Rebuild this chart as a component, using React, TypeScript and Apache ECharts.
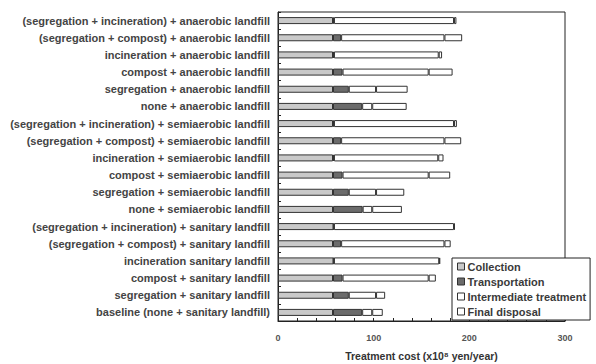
import React, { useEffect, useRef } from "react";
import * as echarts from "echarts";

const categories = [
  "(segregation + incineration) + anaerobic landfill",
  "(segregation + compost) + anaerobic landfill",
  "incineration + anaerobic landfill",
  "compost + anaerobic landfill",
  "segregation + anaerobic landfill",
  "none + anaerobic landfill",
  "(segregation + incineration) + semiaerobic landfill",
  "(segregation + compost) + semiaerobic landfill",
  "incineration + semiaerobic landfill",
  "compost + semiaerobic landfill",
  "segregation + semiaerobic landfill",
  "none + semiaerobic landfill",
  "(segregation + incineration) + sanitary landfill",
  "(segregation + compost) + sanitary landfill",
  "incineration sanitary landfill",
  "compost + sanitary landfill",
  "segregation + sanitary landfill",
  "baseline (none + sanitary landfill)",
];

const collection = [57.5, 57.5, 57.5, 57.5, 57.5, 57.5, 57.5, 57.5, 57.5, 57.5, 57.5, 57.5, 58, 57.5, 58, 57.5, 57.5, 57.5];
const transportation = [1, 8.5, 1, 10, 16.5, 30.5, 1, 8.5, 1, 10, 16.5, 31, 0.5, 8.5, 0.5, 10, 16.5, 30.5];
const intermediate = [125.5, 108, 109.5, 90, 28.5, 10.5, 125.5, 108, 109, 90, 28.5, 10, 125.5, 108, 110, 90, 28.5, 10.5];
const finalDisposal = [2.5, 18.5, 3.5, 25, 33, 36, 3, 17.5, 5.5, 22.5, 29.5, 31, 1, 6.5, 1, 7.5, 9.5, 11];

const xTicks = [0, 100, 200, 300];

const seriesDefs = [
  { name: "Collection", data: collection, color: "#c9c9c9" },
  { name: "Transportation", data: transportation, color: "#6b6b6b" },
  { name: "Intermediate treatment", data: intermediate, color: "#ffffff" },
  { name: "Final disposal", data: finalDisposal, color: "#ffffff" },
];

export default function App() {
  const ref = useRef<HTMLDivElement>(null);
  useEffect(() => {
    if (!ref.current) return;
    const chart = echarts.init(ref.current, undefined, { renderer: "svg" });
    const font = "'Liberation Sans', Arial, sans-serif";
    chart.setOption({
      animation: false,
      backgroundColor: "#ffffff",
      textStyle: { fontFamily: font },
      grid: {
        left: 278,
        right: 31,
        top: 12,
        bottom: 43,
        show: true,
        borderColor: "#222",
        borderWidth: 1,
        containLabel: false,
        outerBoundsMode: "none",
      },
      legend: {
        orient: "vertical",
        left: 452,
        top: 258,
        width: 136,
        backgroundColor: "#fff",
        borderColor: "#222",
        borderWidth: 1,
        padding: [3, 4, 3, 5],
        itemGap: 4,
        itemWidth: 7,
        itemHeight: 7,
        icon: "rect",
        textStyle: { fontSize: 11, fontWeight: "bold", color: "#3a3a3a", fontFamily: font, padding: [0, 0, 0, -2] },
        itemStyle: { borderColor: "#333", borderWidth: 1 },
        data: seriesDefs.map((s) => s.name),
      },
      xAxis: {
        type: "value",
        min: 0,
        max: 300,
        interval: 100,
        name: "Treatment cost (x10⁸ yen/year)",
        nameLocation: "middle",
        nameGap: 29,
        nameTextStyle: { fontSize: 10.5, fontWeight: "bold", color: "#333", fontFamily: font },
        axisLine: { show: true, lineStyle: { color: "#222" } },
        axisTick: { show: true, inside: true, length: 3, lineStyle: { color: "#222" } },
        minorTick: { show: true, splitNumber: 5, length: 3, lineStyle: { color: "#222" } },
        splitLine: { show: false },
        axisLabel: {
          fontSize: 9,
          fontWeight: "bold",
          color: "#555",
          fontFamily: font,
          margin: 12,
          formatter: (v: number) => (xTicks.includes(v) ? String(v) : ""),
        },
      },
      yAxis: {
        type: "category",
        data: categories,
        inverse: true,
        axisLine: { show: true, lineStyle: { color: "#222" } },
        axisTick: { show: true, inside: true, length: 3, lineStyle: { color: "#222" } },
        axisLabel: { fontSize: 11, fontWeight: "bold", color: "#444", fontFamily: font, margin: 8 },
      },
      series: seriesDefs.map((s) => ({
        name: s.name,
        type: "bar",
        stack: "total",
        data: s.data,
        barWidth: 7,
        itemStyle: { color: s.color, borderColor: "#333", borderWidth: 1 },
      })),
    });
    return () => chart.dispose();
  }, []);
  return <div ref={ref} style={{ width: 596, height: 364, position: "absolute", left: 0, top: 0 }} />;
}
